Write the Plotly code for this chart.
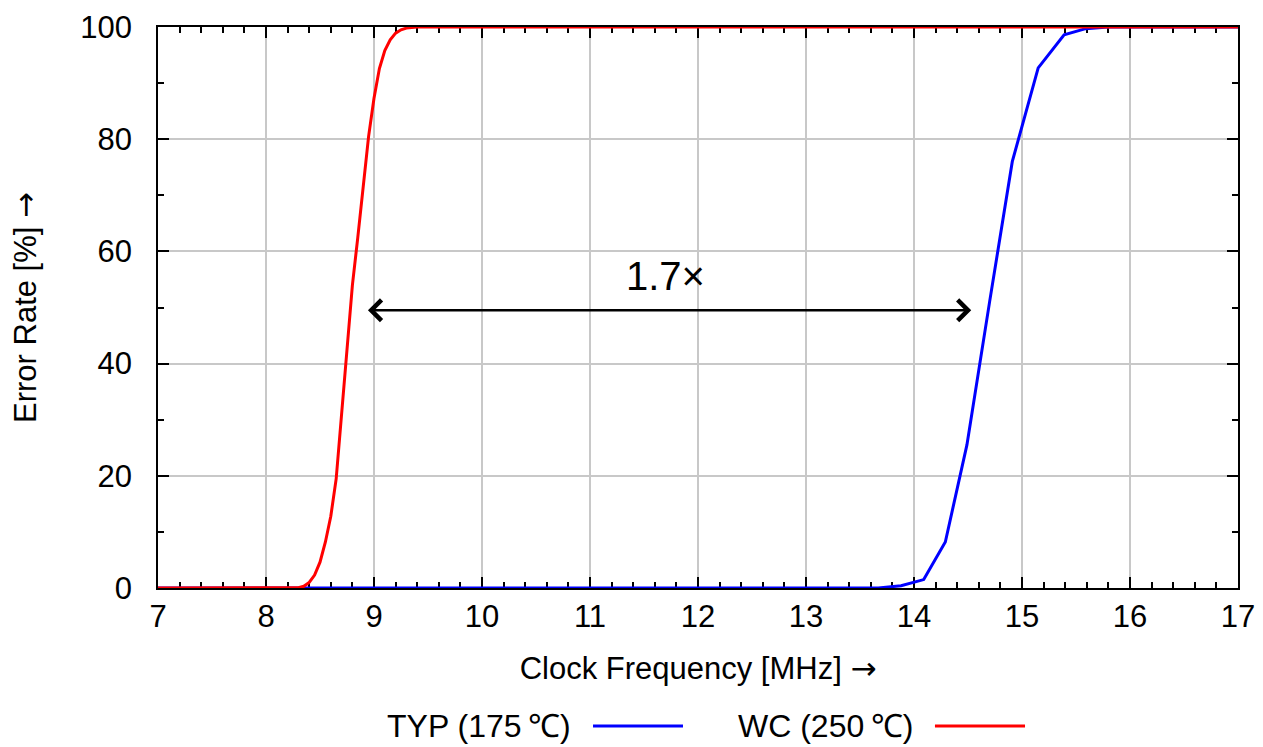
import plotly.graph_objects as go

# ---- data ----
freq_typ = [7.0, 13.67, 13.88, 14.09, 14.29, 14.49, 14.70, 14.91, 15.15, 15.39, 15.59, 15.80, 17.0]
err_typ = [0.0, 0.0, 0.4, 1.5, 8.2, 25.5, 51.0, 76.0, 92.7, 98.6, 99.7, 100.0, 100.0]

freq_wc = [7.0, 8.25, 8.30, 8.35, 8.40, 8.45, 8.50, 8.55, 8.60, 8.65, 8.70, 8.75, 8.80,
           8.85, 8.90, 8.95, 9.00, 9.05, 9.10, 9.15, 9.20, 9.25, 9.30, 9.40, 17.0]
err_wc = [0.0, 0.0, 0.05, 0.3, 1.0, 2.3, 4.6, 8.2, 12.8, 19.5, 31.0, 41.5, 54.0,
          62.5, 72.0, 80.5, 87.3, 92.6, 95.8, 97.7, 98.9, 99.5, 99.8, 100.0, 100.0]

series_names = ["TYP (175\u2009\u2103)", "WC (250\u2009\u2103)"]
series_colors = ["#0000ff", "#ff0000"]

x_ticks = list(range(7, 18))
y_ticks = [0, 20, 40, 60, 80, 100]

arrow_from = 8.93
arrow_to = 14.53
arrow_level = 49.5
ratio_label = "1.7\u00d7"
ratio_x = 11.7
ratio_y = 55.6

FONT = "Liberation Sans, Arial, Helvetica, sans-serif"
ARROW = '<span style="font-family:DejaVu Sans">\u2192</span>'

fig = go.Figure()
fig.add_trace(go.Scatter(x=freq_typ, y=err_typ, mode="lines", name=series_names[0],
                         line=dict(color=series_colors[0], width=3), cliponaxis=False,
                         showlegend=False))
fig.add_trace(go.Scatter(x=freq_wc, y=err_wc, mode="lines", name=series_names[1],
                         line=dict(color=series_colors[1], width=3), cliponaxis=False,
                         showlegend=False))

# double-headed arrow
fig.add_annotation(x=arrow_to, y=arrow_level, ax=arrow_from, ay=arrow_level,
                   xref="x", yref="y", axref="x", ayref="y", text="",
                   showarrow=True, arrowside="end+start", arrowhead=4, startarrowhead=4,
                   arrowsize=1.6, startarrowsize=1.6, arrowwidth=2.5, arrowcolor="black")
fig.add_annotation(x=ratio_x, y=ratio_y, xref="x", yref="y", text=ratio_label,
                   showarrow=False, font=dict(family=FONT, size=40, color="black"))

# manual legend: text followed by line sample
leg_y = -0.246
legend_items = [
    (series_names[0], series_colors[0], 0.3843, 0.4028, 0.4861),
    (series_names[1], series_colors[1], 0.7010, 0.7194, 0.8028),
]
for name, col, txt_right, l0, l1 in legend_items:
    fig.add_annotation(x=txt_right, y=leg_y, xref="paper", yref="paper", text=name,
                       showarrow=False, xanchor="right", yanchor="middle",
                       font=dict(family=FONT, size=32, color="black"))
    fig.add_shape(type="line", xref="paper", yref="paper", x0=l0, x1=l1, y0=leg_y, y1=leg_y,
                  line=dict(color=col, width=3))

axis_common = dict(
    showgrid=True, gridcolor="#c8c8c8", gridwidth=1.5,
    showline=True, linecolor="black", linewidth=1.5, mirror="allticks",
    ticks="inside", ticklen=11, tickwidth=1.5, tickcolor="black",
    tickfont=dict(family=FONT, size=31, color="black"),
    zeroline=False, layer="below traces",
)

fig.update_xaxes(range=[7, 17], tickvals=x_ticks, ticktext=[str(v) for v in x_ticks],
                 minor=dict(dtick=0.2, tick0=7, ticks="inside", ticklen=6, tickwidth=1.5,
                            tickcolor="black", showgrid=False),
                 title=dict(text="Clock Frequency [MHz] " + ARROW, standoff=24,
                            font=dict(family=FONT, size=31, color="black")),
                 **axis_common)
fig.update_yaxes(range=[0, 100], tickvals=y_ticks, ticktext=[str(v) for v in y_ticks],
                 minor=dict(dtick=10, tick0=0, ticks="inside", ticklen=6, tickwidth=1.5,
                            tickcolor="black", showgrid=False),
                 title=dict(text="Error Rate [%] " + ARROW, standoff=34,
                            font=dict(family=FONT, size=31, color="black")),
                 ticklabelstandoff=18,
                 **axis_common)

fig.update_layout(width=1263, height=747,
                  margin=dict(l=158, r=25, t=27, b=159, autoexpand=False),
                  plot_bgcolor="white", paper_bgcolor="white",
                  font=dict(family=FONT, size=31, color="black"),
                  showlegend=False)

# remove the browser's default 8px body margin so the figure fills the window exactly
fig.write_html("out.html", config={"displayModeBar": False},
               post_script="document.body.style.margin='0';")
